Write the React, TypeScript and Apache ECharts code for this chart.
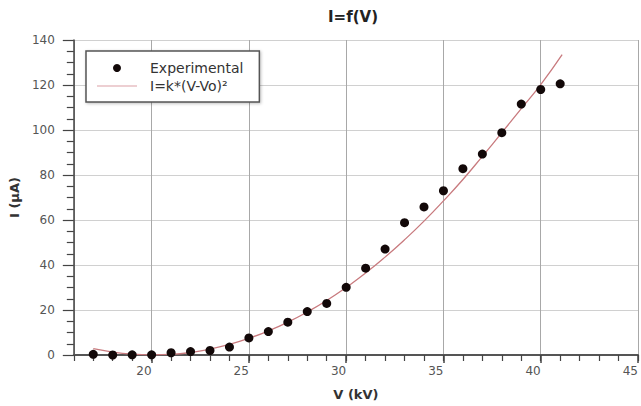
import React, { useEffect, useRef } from "react";
import * as echarts from "echarts";

// Experimental points, V in kV, I in µA
const expV = [17, 18, 19, 20, 21, 22, 23, 24, 25, 26, 27, 28, 29, 30, 31, 32, 33, 34, 35, 36, 37, 38, 39, 40, 41];
const expI = [0.3, 0, 0.1, 0.1, 1.0, 1.5, 2.0, 3.5, 7.6, 10.4, 14.6, 19.3, 22.9, 30.1, 38.6, 47.1, 58.8, 65.8, 73.0, 82.8, 89.3, 98.8, 111.5, 118.0, 120.5];

// Fitted curve
const fitV = [17, 18, 19, 20, 21, 22, 23, 24, 25, 26, 27, 28, 29, 30, 31, 32, 33, 34, 35, 36, 37, 38, 39, 40, 41.1];
const fitI = [2.8, 1.3, 0.4, 0.1, 0.3, 1.1, 2.6, 4.7, 7.4, 10.7, 14.6, 19.1, 24.2, 30.0, 36.4, 43.5, 51.2, 59.5, 68.5, 78.0, 88.3, 98.8, 109.5, 120.2, 133.5];

const seriesNames = ["Experimental", "I=k*(V-Vo)²"];
const titleText = "I=f(V)";
const xName = "V (kV)";
const yName = "I (µA)";

const FONT = "DejaVu Sans";
const LINE_ICON =
  "path://M0,0L0.01,0L0.01,0.01Z M0,3.4L40,3.4L40,4.6L0,4.6Z M0,8L0.01,8L0.01,7.99Z";

export default function App() {
  const ref = useRef<HTMLDivElement>(null);
  useEffect(() => {
    if (!ref.current) return;
    const chart = echarts.init(ref.current, null, { renderer: "svg" });
    chart.setOption({
      animation: false,
      backgroundColor: "#ffffff",
      title: {
        text: titleText,
        left: 328,
        top: 9,
        padding: 0,
        textStyle: { fontFamily: FONT, fontSize: 15, fontWeight: "bold", color: "#222" },
      },
      legend: {
        orient: "vertical",
        left: 86,
        top: 51,
        padding: [10, 16, 9, 11],
        itemGap: 4,
        itemWidth: 40,
        itemHeight: 8,
        backgroundColor: "#ffffff",
        borderColor: "#555",
        borderWidth: 1.5,
        shadowColor: "rgba(0,0,0,0.25)",
        shadowBlur: 3,
        shadowOffsetX: 1,
        shadowOffsetY: 1,
        textStyle: { fontFamily: FONT, fontSize: 14, color: "#333", padding: [0, 0, 0, 8] },
        data: [
          { name: seriesNames[0], icon: "circle" },
          { name: seriesNames[1], icon: LINE_ICON, itemStyle: { color: "#dca0a6" } },
        ],
      },
      grid: { left: 72, top: 40, right: 0, bottom: 47, containLabel: false },
      xAxis: [
        {
          type: "value",
          min: 16,
          max: 45,
          name: xName,
          nameLocation: "middle",
          nameGap: 33,
          nameTextStyle: { fontFamily: FONT, fontSize: 13, fontWeight: "bold", color: "#333" },
          axisLine: { show: true, onZero: false, lineStyle: { color: "#555", width: 2 } },
          axisTick: { show: true, length: 8, lineStyle: { color: "#444", width: 1.5 } },
          axisLabel: {
            showMinLabel: false,
            align: "right",
            margin: 10,
            fontFamily: FONT,
            fontSize: 12,
            color: "#555",
          },
          splitLine: { show: true, lineStyle: { color: "#a8a8a8", width: 1 } },
        },
        {
          type: "value",
          min: 16,
          max: 45,
          interval: 1,
          position: "bottom",
          axisLine: { show: false, onZero: false },
          axisTick: { show: true, length: 6, lineStyle: { color: "#444", width: 1.2 } },
          axisLabel: { show: false },
          splitLine: { show: false },
        },
      ],
      yAxis: {
        type: "value",
        min: 0,
        max: 140,
        interval: 20,
        name: yName,
        nameLocation: "middle",
        nameGap: 50,
        nameTextStyle: { fontFamily: FONT, fontSize: 13, fontWeight: "bold", color: "#333" },
        axisLine: { show: true, lineStyle: { color: "#444", width: 1.5 } },
        axisTick: { show: true, length: 11, lineStyle: { color: "#444", width: 1.2 } },
        minorTick: { show: true, splitNumber: 4, length: 7, lineStyle: { color: "#444", width: 1.2 } },
        axisLabel: { margin: 19, fontFamily: FONT, fontSize: 12, color: "#555" },
        splitLine: { show: true, lineStyle: { color: "#d0d0d0", width: 1 } },
      },
      series: [
        {
          name: seriesNames[1],
          type: "line",
          xAxisIndex: 0,
          data: fitV.map((v, i) => [v, fitI[i]]),
          smooth: true,
          symbol: "none",
          z: 2,
          lineStyle: { color: "#c87a7e", width: 1.3 },
          itemStyle: { color: "#dca0a6" },
        },
        {
          name: seriesNames[0],
          type: "scatter",
          xAxisIndex: 0,
          data: expV.map((v, i) => [v, expI[i]]),
          symbol: "circle",
          symbolSize: 9,
          z: 3,
          itemStyle: { color: "#120808", opacity: 1 },
        },
      ],
    });
    return () => chart.dispose();
  }, []);
  return <div ref={ref} style={{ position: "fixed", left: 0, top: 0, width: 641, height: 406 }} />;
}
